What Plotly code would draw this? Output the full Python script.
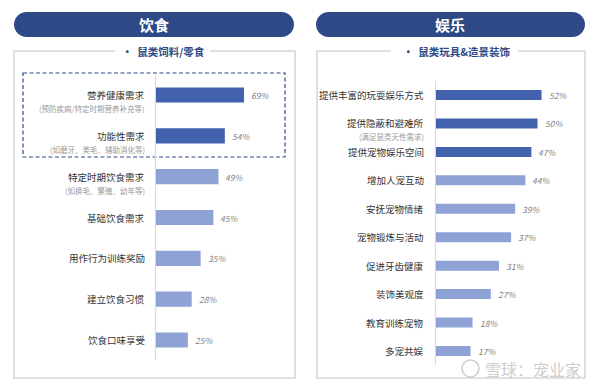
import plotly.graph_objects as go

# ---------------- data ----------------
left_header = "饮食"
left_title = "鼠类饲料/零食"
left_cats = ["营养健康需求", "功能性需求", "特定时期饮食需求", "基础饮食需求",
             "用作行为训练奖励", "建立饮食习惯", "饮食口味享受"]
left_vals = [69, 54, 49, 45, 35, 28, 25]
left_subs = ["(预防疾病/特定时期营养补充等)", "(如磨牙、美毛、辅助消化等)",
             "(如换毛、繁殖、幼年等)", "", "", "", ""]
left_dark_n = 2

right_header = "娱乐"
right_title = "鼠类玩具&造景装饰"
right_cats = ["提供丰富的玩耍娱乐方式", "提供隐蔽和避难所", "提供宠物娱乐空间", "增加人宠互动",
              "安抚宠物情绪", "宠物锻炼与活动", "促进牙齿健康", "装饰美观度",
              "教育训练宠物", "多宠共娱"]
right_vals = [52, 50, 47, 44, 39, 37, 31, 27, 18, 17]
right_subs = ["", "(满足鼠类天性需求)", "", "", "", "", "", "", "", ""]
right_dark_n = 3

watermark = "雪球：宠业家"

# ---------------- style ----------------
W, H = 600, 384
FONT = "Noto Sans CJK SC"
NAVY = "#2E4A86"
DARK = "#4262AE"
LIGHT = "#8FA2D6"
BORDER = "#D6D6D6"


def px(x):
    return x / W


def py(y):
    return 1 - y / H


def pill_path(x0, x1, y0, y1):
    r = (y1 - y0) / 2
    k = 0.5523 * r
    pts = [
        ("M", [(x0 + r, y0)]),
        ("L", [(x1 - r, y0)]),
        ("C", [(x1 - r + k, y0), (x1, y0 + r - k), (x1, y0 + r)]),
        ("C", [(x1, y0 + r + k), (x1 - r + k, y1), (x1 - r, y1)]),
        ("L", [(x0 + r, y1)]),
        ("C", [(x0 + r - k, y1), (x0, y1 - r + k), (x0, y1 - r)]),
        ("C", [(x0, y0 + r - k), (x0 + r - k, y0), (x0 + r, y0)]),
    ]
    s = ""
    for cmd, ps in pts:
        s += cmd + " " + " ".join(f"{px(a):.5f},{py(b):.5f}" for a, b in ps) + " "
    return s + "Z"


def poly_path(points):
    return "M " + " L ".join(f"{px(a):.5f},{py(b):.5f}" for a, b in points)


fig = go.Figure()

panels = [
    dict(cats=left_cats, vals=left_vals, subs=left_subs, dark_n=left_dark_n,
         xa="x", ya="y", width=0.37, label_x=147),
    dict(cats=right_cats, vals=right_vals, subs=right_subs, dark_n=right_dark_n,
         xa="x2", ya="y2", width=0.35, label_x=426),
]

for p in panels:
    colors = [DARK if i < p["dark_n"] else LIGHT for i in range(len(p["vals"]))]
    fig.add_trace(go.Bar(
        x=p["vals"], y=p["cats"], orientation="h",
        marker=dict(color=colors, line=dict(width=0)),
        width=p["width"],
        xaxis=p["xa"], yaxis=p["ya"],
        hoverinfo="skip",
        showlegend=False,
    ))

annotations = []
for p in panels:
    for c, v, s in zip(p["cats"], p["vals"], p["subs"]):
        annotations.append(dict(
            text=c, xref="paper", yref=p["ya"], x=px(p["label_x"]), y=c,
            xanchor="right", yanchor="middle", showarrow=False,
            font=dict(family=FONT, size=9.5, color="#333333"),
        ))
        if s:
            annotations.append(dict(
                text=s, xref="paper", yref=p["ya"], x=px(p["label_x"]), y=c,
                xanchor="right", yanchor="middle", yshift=-13.5, showarrow=False,
                font=dict(family=FONT, size=7.5, color="#9A9A9A"),
            ))
        annotations.append(dict(
            text=f"{v}%", xref=p["xa"], yref=p["ya"], x=v, y=c,
            xanchor="left", yanchor="middle", xshift=5, showarrow=False,
            font=dict(family=FONT, size=8.5, color="#7F7F7F", style="italic"),
        ))

# headers
for txt, cx in [(left_header, 154), (right_header, 450)]:
    annotations.append(dict(
        text=f"<b>{txt}</b>", xref="paper", yref="paper", x=px(cx), y=py(24.5),
        xanchor="center", yanchor="middle", showarrow=False,
        font=dict(family=FONT, size=15, color="white"),
    ))

# box titles
for txt, cx in [(left_title, 163), (right_title, 457)]:
    annotations.append(dict(
        text=f"<b>•  {txt}</b>", xref="paper", yref="paper", x=px(cx), y=py(52),
        xanchor="center", yanchor="middle", showarrow=False,
        font=dict(family=FONT, size=10.5, color=NAVY),
    ))

# watermark
annotations.append(dict(
    text=watermark, xref="paper", yref="paper", x=px(533), y=py(368.5),
    xanchor="center", yanchor="middle", showarrow=False,
    font=dict(family=FONT, size=16, color="#CDCDCD"),
))

shapes = [
    dict(type="path", xref="paper", yref="paper", path=pill_path(14, 294, 12, 37),
         fillcolor=NAVY, line=dict(width=0), layer="below"),
    dict(type="path", xref="paper", yref="paper", path=pill_path(316, 585, 12, 37),
         fillcolor=NAVY, line=dict(width=0), layer="below"),
    dict(type="path", xref="paper", yref="paper",
         path=poly_path([(115, 51), (14, 51), (14, 378), (295, 378), (295, 51), (210, 51)]),
         line=dict(color=BORDER, width=1.5), layer="below"),
    dict(type="path", xref="paper", yref="paper",
         path=poly_path([(391, 51), (317, 51), (317, 378), (585, 378), (585, 51), (518, 51)]),
         line=dict(color=BORDER, width=1.5), layer="below"),
    dict(type="rect", xref="paper", yref="paper", x0=px(23), x1=px(285), y0=py(73), y1=py(157),
         line=dict(color=NAVY, width=1.2, dash="4px,2.5px"), layer="below"),
    dict(type="circle", xref="paper", yref="paper", x0=px(462), x1=px(479), y0=py(377), y1=py(360),
         line=dict(color="#CDCDCD", width=1.5)),
]

nL, nR = len(left_cats), len(right_cats)
fig.update_layout(
    width=W, height=H,
    margin=dict(l=0, r=0, t=0, b=0),
    paper_bgcolor="white", plot_bgcolor="white",
    font=dict(family=FONT),
    xaxis=dict(domain=[px(156), px(284)], range=[0, 128 / 1.275], visible=False, fixedrange=True),
    yaxis=dict(domain=[py(360.4), py(74.6)], anchor="x", type="category",
               categoryorder="array", categoryarray=left_cats,
               range=[nL - 0.5, -0.5], showticklabels=False, showgrid=False,
               zeroline=False, showline=True, linecolor="#D9D9D9", linewidth=1, ticks=""),
    xaxis2=dict(domain=[px(436), px(580)], range=[0, 144 / 2.03], visible=False, fixedrange=True),
    yaxis2=dict(domain=[py(365.2), py(80.8)], anchor="x2", type="category",
                categoryorder="array", categoryarray=right_cats,
                range=[nR - 0.5, -0.5], showticklabels=False, showgrid=False,
                zeroline=False, showline=True, linecolor="#D9D9D9", linewidth=1, ticks=""),
    annotations=annotations,
    shapes=shapes,
)

fig.write_html("out.html")
